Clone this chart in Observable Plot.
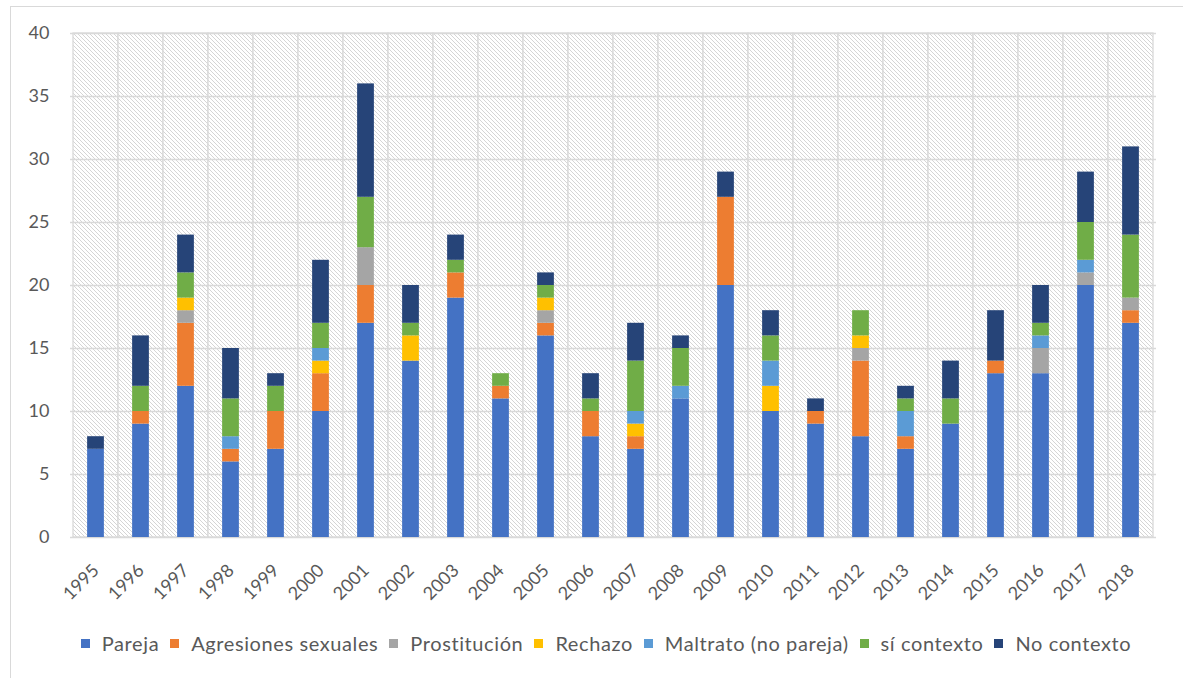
<!DOCTYPE html>
<html>
<head>
<meta charset="utf-8">
<script src="https://cdn.jsdelivr.net/npm/d3@7"></script>
<script src="https://cdn.jsdelivr.net/npm/@observablehq/plot@0.6"></script>
<style>
  html, body { margin: 0; padding: 0; background: #fff; }
  #wrap { position: relative; width: 1183px; height: 678px; overflow: hidden; font-family: Lato, "Open Sans", sans-serif; }
  #border { position: absolute; left: 10px; top: 6px; width: 1300px; height: 800px; border: 1px solid #d9d9d9; box-sizing: border-box; }
  #chart { position: absolute; left: 0; top: 0; }
  #legend { position: absolute; left: 0; top: 631px; width: 1212px; display: flex; justify-content: center; align-items: center; gap: 11px; font-size: 20px; letter-spacing: 0.6px; color: #595959; white-space: nowrap; }
  #legend .item { display: flex; align-items: center; gap: 12px; }
  #legend .sw { width: 9px; height: 9px; display: inline-block; }
</style>
</head>
<body>
<div id="wrap">
  <div id="border"></div>
  <div id="chart"></div>
  <div id="legend"></div>
</div>
<script>
const years = ["1995","1996","1997","1998","1999","2000","2001","2002","2003","2004","2005","2006","2007","2008","2009","2010","2011","2012","2013","2014","2015","2016","2017","2018"];
const seriesNames = ["Pareja","Agresiones sexuales","Prostitución","Rechazo","Maltrato (no pareja)","sí contexto","No contexto"];
const seriesColors = ["#4472C4","#ED7D31","#A5A5A5","#FFC000","#5B9BD5","#70AD47","#264478"];
const pareja       = [7,9,12,6,7,10,17,14,19,11,16,8,7,11,20,10,9,8,7,9,13,13,20,17];
const agresiones   = [0,1,5,1,3,3,3,0,2,1,1,2,1,0,7,0,1,6,1,0,1,0,0,1];
const prostitucion = [0,0,1,0,0,0,3,0,0,0,1,0,0,0,0,0,0,1,0,0,0,2,1,1];
const rechazo      = [0,0,1,0,0,1,0,2,0,0,1,0,1,0,0,2,0,1,0,0,0,0,0,0];
const maltrato     = [0,0,0,1,0,1,0,0,0,0,0,0,1,1,0,2,0,0,2,0,0,1,1,0];
const siContexto   = [0,2,2,3,2,2,4,1,1,1,1,1,4,3,0,2,0,2,1,2,0,1,3,5];
const noContexto   = [1,4,3,4,1,5,9,3,2,0,1,2,3,1,2,2,1,0,1,3,4,3,4,7];
const yTicks = [0,5,10,15,20,25,30,35,40];

const seriesValues = [pareja, agresiones, prostitucion, rechazo, maltrato, siContexto, noContexto];
const data = [];
seriesNames.forEach((s, i) => {
  years.forEach((y, j) => data.push({year: y, series: s, value: seriesValues[i][j]}));
});

const W = 1183, H = 625, ML = 70, MR = 27, MT = 33, MB = 88;
const band = (W - ML - MR) / years.length;
const barW = 17;
const inset = (band - barW) / 2;

const plot = Plot.plot({
  width: W,
  height: H,
  marginLeft: ML,
  marginRight: MR,
  marginTop: MT,
  marginBottom: MB,
  style: {fontFamily: "Lato, 'Open Sans', sans-serif", fontSize: "18px", color: "#595959", background: "transparent"},
  x: {domain: years, padding: 0, label: null},
  y: {domain: [0, 40], label: null},
  color: {domain: seriesNames, range: seriesColors},
  marks: [
    Plot.cell(years, {x: d => d, fill: "url(#hatch)", stroke: "#d9d9d9", strokeWidth: 1.3, inset: 0}),
    Plot.ruleY(yTicks, {stroke: "#d9d9d9", strokeWidth: 1.3}),
    Plot.barY(data, {x: "year", y: "value", fill: "series", order: seriesNames, insetLeft: inset, insetRight: inset}),
    Plot.axisY({ticks: yTicks, tickSize: 0, tickPadding: 21, tickFormat: d => d}),
    Plot.axisX({tickSize: 0, tickPadding: 30, tickRotate: -45})
  ]
});

const svg = d3.select(plot);
const defs = svg.insert("defs", ":first-child");
const pat = defs.append("pattern").attr("id", "hatch").attr("patternUnits", "userSpaceOnUse").attr("width", 4).attr("height", 4);
pat.append("rect").attr("width", 4).attr("height", 4).attr("fill", "#ffffff");
pat.append("path").attr("d", "M-1,-1 L5,5 M-1,3 L1,5 M3,-1 L5,1").attr("stroke", "#d0d0d0").attr("stroke-width", 0.9);

document.getElementById("chart").appendChild(plot);

const legend = document.getElementById("legend");
seriesNames.forEach((s, i) => {
  const item = document.createElement("span");
  item.className = "item";
  const sw = document.createElement("span");
  sw.className = "sw";
  sw.style.background = seriesColors[i];
  const t = document.createElement("span");
  t.textContent = s;
  item.appendChild(sw);
  item.appendChild(t);
  legend.appendChild(item);
});
</script>
</body>
</html>
